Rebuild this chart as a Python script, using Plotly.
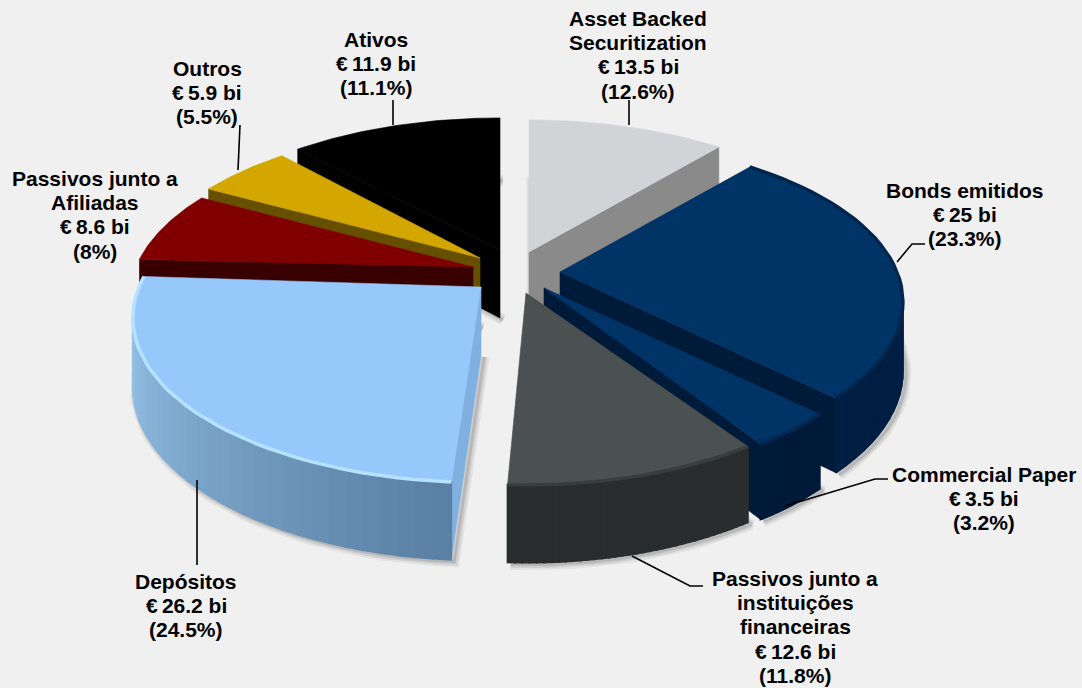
import math
import plotly.graph_objects as go

names = [["Asset Backed", "Securitization"], ["Bonds emitidos"], ["Commercial Paper"],
         ["Passivos junto a", "instituições", "financeiras"], ["Depósitos"],
         ["Passivos junto a", "Afiliadas"], ["Outros"], ["Ativos"]]
values = [13.5, 25, 3.5, 12.6, 26.2, 8.6, 5.9, 11.9]
value_text = ["13.5", "25", "3.5", "12.6", "26.2", "8.6", "5.9", "11.9"]
percent_text = ["12.6", "23.3", "3.2", "11.8", "24.5", "8", "5.5", "11.1"]

top_colors = ["#d1d3d6", "#003366", "#003366", "#4b5151", "#97c8fb", "#800000", "#d4a600", "#000000"]
wall_start = ["#8a8a8a", "#001a3a", "#001a3a", "#2a2d2e", "#5a80a4", "#380000", "#665000", "#000000"]
wall_end = ["#8a8a8a", "#001f44", "#001a3a", "#2a2c2d", "#a0cdf2", "#380000", "#665000", "#000000"]
cut_colors = ["#8a8a8a", "#001a3a", "#001a3a", "#2a2d2e", "#80b0e0", "#380000", "#665000", "#000000"]
rim_colors = [None, "#00264e", "#002a55", "#393d3d", "#b4e2ff", None, None, None]
slice_tip_x = [529, 560, 544, 526, 481, 473, 480, 500]
slice_tip_y = [252, 272, 288, 293, 287, 267, 258, 250]
view_turn_start = [0, 0, 0, 0, 0.7, 1.5, -1.5, -3]
view_turn_end = [0, 0, 1, -0.8, 2.5, -1.5, -2, 0]
radius_scale = [1, 1, 1, 1, 1.015, 1, 1, 1]
paint_order = [0, 7, 6, 5, 1, 2, 3, 4]

label_x = [638, 965, 984, 795, 186, 95, 207, 376]
label_first_y = [18, 190, 474, 578, 581, 178, 68, 39]
LINE_GAP = 24.4
leaders = [[(629, 100), (629, 125)],
           [(897, 262), (912, 244), (925, 244)],
           [(785, 506), (875, 479), (888, 479)],
           [(632, 556), (690, 586), (703, 586)],
           [(197, 480), (197, 565)],
           [],
           [(240, 125), (238, 170)],
           [(393, 100), (393, 125)]]

RX, RY, K, DEPTH, DEPTH_POW, EAST_SQUEEZE = 337, 156.5, 0.185, 68, 0.65, 0.83
BG = "#f0f0f0"


def warp(deg):
    t = math.radians(deg)
    s, c = math.sin(t), math.cos(t)
    if s > 0:
        s *= EAST_SQUEEZE
    return math.atan2(s, c)


def project(tip, X, Y, down=False):
    w = 1 + K * Y
    y = tip[1] - RY * Y / w
    if down:
        y += DEPTH / w ** DEPTH_POW
    return (tip[0] + RX * X / w, y)


def mix(a, b, t):
    ca = [int(a[i:i + 2], 16) for i in (1, 3, 5)]
    cb = [int(b[i:i + 2], 16) for i in (1, 3, 5)]
    return "#%02x%02x%02x" % tuple(round(p + (q - p) * t) for p, q in zip(ca, cb))


fig = go.Figure()


def poly(points, color, edge=0.6):
    fig.add_trace(go.Scatter(x=[p[0] for p in points] + [points[0][0]],
                             y=[p[1] for p in points] + [points[0][1]],
                             mode="lines", fill="toself", fillcolor=color,
                             line=dict(color=color, width=edge),
                             hoverinfo="skip", showlegend=False))


def stroke(points, color, width):
    fig.add_trace(go.Scatter(x=[p[0] for p in points], y=[p[1] for p in points],
                             mode="lines", line=dict(color=color, width=width),
                             hoverinfo="skip", showlegend=False))


total = sum(values)
edges = [0.0]
for v in values:
    edges.append(edges[-1] + v / total * 360)

for i in paint_order:
    a0 = warp(edges[i]) + math.radians(view_turn_start[i])
    a1 = warp(edges[i + 1]) + math.radians(view_turn_end[i])
    if a1 < a0:
        a1 += 2 * math.pi
    mid = (a0 + a1) / 2
    tip = (slice_tip_x[i], slice_tip_y[i])
    r = radius_scale[i]
    steps = 36
    angles = [a0 + (a1 - a0) * j / steps for j in range(steps + 1)]
    top = [project(tip, r * math.sin(a), r * math.cos(a)) for a in angles]
    bottom = [project(tip, r * math.sin(a), r * math.cos(a), True) for a in angles]
    apex, apex_low = project(tip, 0, 0), project(tip, 0, 0, True)
    centre = project(tip, 0.5 * math.sin(mid), 0.5 * math.cos(mid))

    # soft drop shadow under the visible outline
    outline = [apex_low] + bottom
    for width, alpha in ((11, 0.07), (7, 0.10), (3, 0.14)):
        stroke([(x + 3, y + 2) for x, y in outline], f"rgba(40,40,40,{alpha})", width)

    # straight cut faces, only when they face the viewer
    for rim_top, rim_low in ((top[0], bottom[0]), (top[-1], bottom[-1])):
        ex, ey = rim_top[0] - apex[0], rim_top[1] - apex[1]
        side_inner = ex * (centre[1] - apex[1]) - ey * (centre[0] - apex[0])
        if side_inner * ex < 0:
            poly([apex, rim_top, rim_low, apex_low], cut_colors[i])

    # curved outer wall, shaded segment by segment
    for j in range(steps):
        if top[j + 1][0] < top[j][0]:
            poly([top[j], top[j + 1], bottom[j + 1], bottom[j]],
                 mix(wall_start[i], wall_end[i], j / (steps - 1)), edge=1.8)

    poly([apex] + top, top_colors[i])
    if rim_colors[i]:
        stroke(top, rim_colors[i], 3.5)

for pts in leaders:
    if pts:
        stroke(pts, "#000000", 1.6)

for i in range(len(values)):
    lines = names[i] + [f"€\u2009{value_text[i]} bi", f"({percent_text[i]}%)"]
    for n, line in enumerate(lines):
        fig.add_annotation(x=label_x[i], y=label_first_y[i] + n * LINE_GAP, xref="x", yref="y",
                           showarrow=False, align="center", xanchor="center", yanchor="middle",
                           text=f"<b>{line}</b>",
                           font=dict(family="Liberation Sans", size=21, color="#000000"))

fig.update_layout(width=1082, height=688, margin=dict(l=0, r=0, t=0, b=0),
                  paper_bgcolor=BG, plot_bgcolor=BG, showlegend=False,
                  xaxis=dict(range=[0, 1082], visible=False, fixedrange=True),
                  yaxis=dict(range=[688, 0], visible=False, fixedrange=True))
fig.write_html("out.html", config={"displayModeBar": False},
               post_script="document.body.style.margin='0';document.body.style.overflow='hidden';")
